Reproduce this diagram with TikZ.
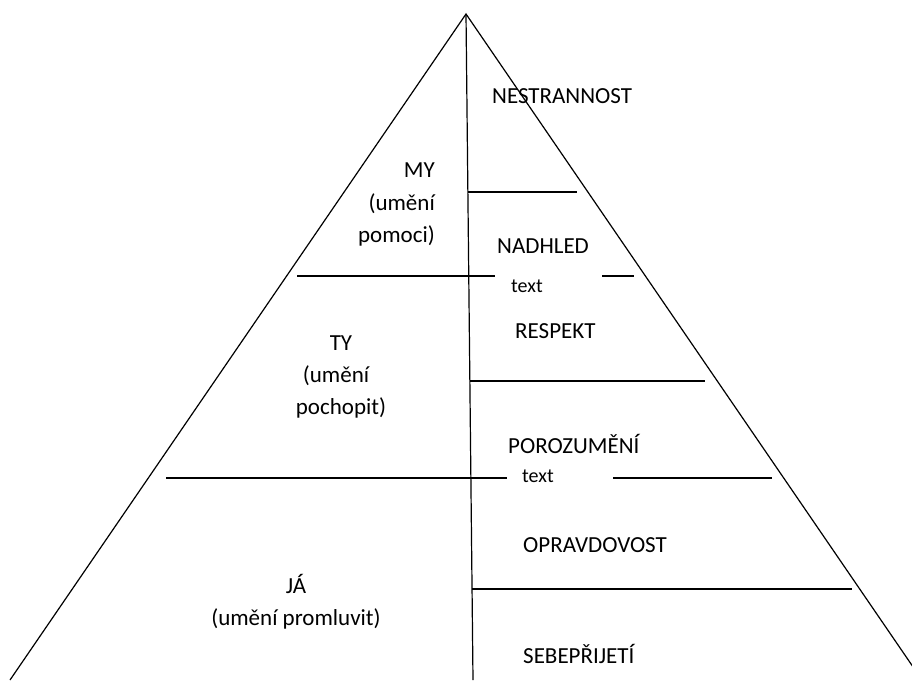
\documentclass[tikz,border=0pt]{standalone}
\usepackage{fontspec}
\setmainfont{Carlito}
\begin{document}
\begin{tikzpicture}[x=1pt,y=-1pt,
  edge/.style={line width=1.2pt,line cap=butt},
  lbl/.style={inner sep=0pt,font=\fontsize{23}{28}\selectfont},
  small/.style={inner sep=0pt,font=\fontsize{20}{24}\selectfont}]
\useasboundingbox (0,0) rectangle (912,680);
\clip (0,0) rectangle (912,680);
% pyramid
\coordinate (apex) at (466,14);
\coordinate (bl) at (10,680);
\coordinate (br) at (922,680);
\coordinate (vb) at (473,680);
\draw[edge] (bl) -- (apex) -- (br);
\draw[edge] (apex) -- (vb);
% horizontal lines
\coordinate (h1a) at (468,192); \coordinate (h1b) at (577,192);
\coordinate (h2a) at (297,276); \coordinate (h2b) at (495,276);
\coordinate (h2c) at (602,276); \coordinate (h2d) at (634,276);
\coordinate (h3a) at (470,381); \coordinate (h3b) at (705,381);
\coordinate (h4a) at (166,478); \coordinate (h4b) at (507,478);
\coordinate (h4c) at (613,478); \coordinate (h4d) at (772,478);
\coordinate (h5a) at (472,589); \coordinate (h5b) at (852,589);
\draw[edge] (h1a) -- (h1b);
\draw[edge] (h2a) -- (h2b);
\draw[edge] (h2c) -- (h2d);
\draw[edge] (h3a) -- (h3b);
\draw[edge] (h4a) -- (h4b);
\draw[edge] (h4c) -- (h4d);
\draw[edge] (h5a) -- (h5b);
% right column labels
\node[lbl,anchor=base west] (nes) at (492,103) {NESTRANNOST};
\node[lbl,anchor=base west] (nad) at (497,253) {NADHLED};
\node[small,anchor=base west] (t1) at (511,292) {text};
\node[lbl,anchor=base west] (res) at (515,338) {RESPEKT};
\node[lbl,anchor=base west] (por) at (508,453) {POROZUMĚNÍ};
\node[small,anchor=base west] (t2) at (522,482) {text};
\node[lbl,anchor=base west] (opr) at (523,552) {OPRAVDOVOST};
\node[lbl,anchor=base west] (seb) at (523,663) {SEBEPŘIJETÍ};
% left column labels
\node[lbl,anchor=base east] (my1) at (435,177) {MY};
\node[lbl,anchor=base east] (my2) at (435,210) {(umění};
\node[lbl,anchor=base east] (my3) at (435,242) {pomoci)};
\node[lbl,anchor=base] (ty1) at (341,350) {TY};
\node[lbl,anchor=base] (ty2) at (336,382) {(umění};
\node[lbl,anchor=base] (ty3) at (341,414) {pochopit)};
\node[lbl,anchor=base] (ja1) at (296,593) {JÁ};
\node[lbl,anchor=base] (ja2) at (296,625) {(umění promluvit)};
\end{tikzpicture}
\end{document}
